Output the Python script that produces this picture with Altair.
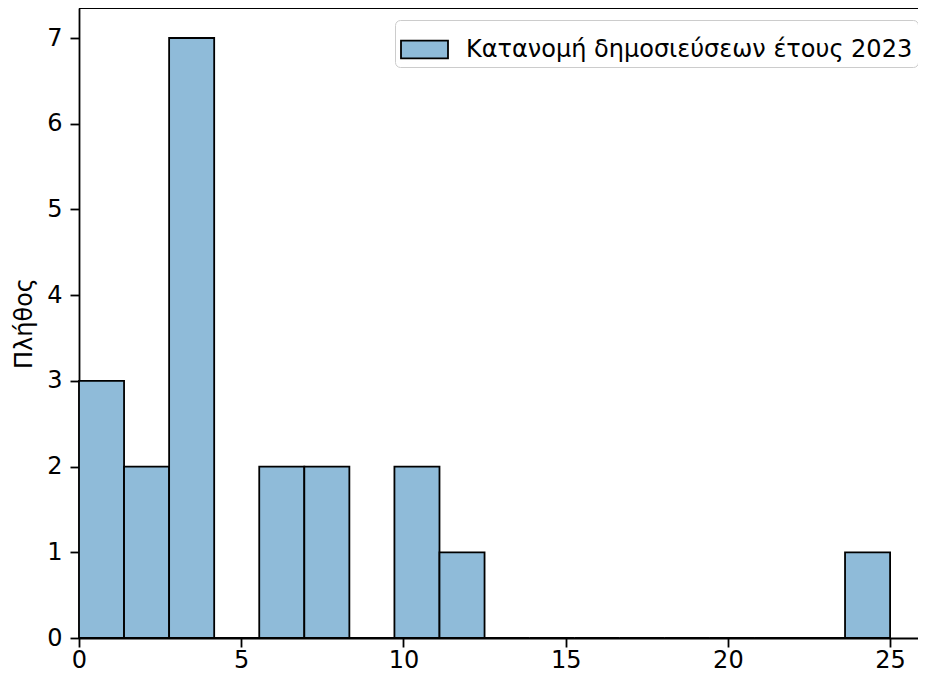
import altair as alt
import pandas as pd

# Histogram data
counts = [3, 2, 7, 0, 2, 2, 0, 2, 1, 0, 0, 0, 0, 0, 0, 0, 0, 1]
x_range = [0, 25]
series_label = "Κατανομή δημοσιεύσεων έτους 2023"
x_ticks = [0, 5, 10, 15, 20, 25]
y_ticks = [0, 1, 2, 3, 4, 5, 6, 7]
y_title = "Πλήθος"

n_bins = len(counts)
step = (x_range[1] - x_range[0]) / n_bins
df = pd.DataFrame({
    "start": [x_range[0] + i * step for i in range(n_bins)],
    "end": [x_range[0] + (i + 1) * step for i in range(n_bins)],
    "count": counts,
    "series": [series_label] * n_bins,
})

FONT = "DejaVu Sans"
FS = 24
LW = 1.8
PLOT_W, PLOT_H = 839, 630

bars = alt.Chart(df).mark_bar(
    stroke="black", strokeWidth=LW, fillOpacity=1, binSpacing=0
).encode(
    x=alt.X("start:Q",
            scale=alt.Scale(domain=[0, 25.86], nice=False, zero=False),
            axis=alt.Axis(values=x_ticks, title=None, grid=False, format="d",
                          labelFont=FONT, labelFontSize=FS, labelColor="black",
                          labelBaseline="alphabetic",
                          tickSize=9, tickWidth=LW, tickColor="black",
                          domainColor="black", domainWidth=LW,
                          labelPadding=20, labelFlush=False)),
    x2="end:Q",
    y=alt.Y("count:Q",
            scale=alt.Scale(domain=[0, 7.35], nice=False),
            axis=alt.Axis(values=y_ticks, title=y_title, grid=False, format="d",
                          labelFont=FONT, labelFontSize=FS, labelColor="black",
                          titleFont=FONT, titleFontSize=FS, titleFontWeight="normal",
                          titleColor="black", titlePadding=10,
                          tickSize=9, tickWidth=LW, tickColor="black",
                          domainColor="black", domainWidth=LW,
                          labelPadding=8, labelFlush=False)),
    y2=alt.datum(0),
    color=alt.Color("series:N",
                    scale=alt.Scale(domain=[series_label], range=["#8fbbd9"]),
                    legend=alt.Legend(
                        title=None, orient="none", legendX=316, legendY=12,
                        symbolType="M-1,-0.375H1V0.375H-1Z", symbolSize=2209,
                        symbolStrokeColor="black", symbolStrokeWidth=LW,
                        symbolOpacity=1,
                        labelFont=FONT, labelFontSize=FS, labelColor="black",
                        labelOffset=17, labelLimit=800, padding=5,
                        strokeColor="#cccccc", fillColor="white",
                        cornerRadius=5)),
)

top_spine = alt.Chart(df).mark_rule(color="black", strokeWidth=LW).encode(
    y=alt.value(0)
)

chart = alt.layer(bars, top_spine).properties(
    width=PLOT_W,
    height=PLOT_H,
    autosize=alt.AutoSizeParams(type="none"),
    padding={"left": 71, "top": 0, "right": 0, "bottom": 36},
    background="white",
).configure_view(stroke="transparent")

chart.save("out.html", embed_options={"renderer": "svg", "actions": False})
